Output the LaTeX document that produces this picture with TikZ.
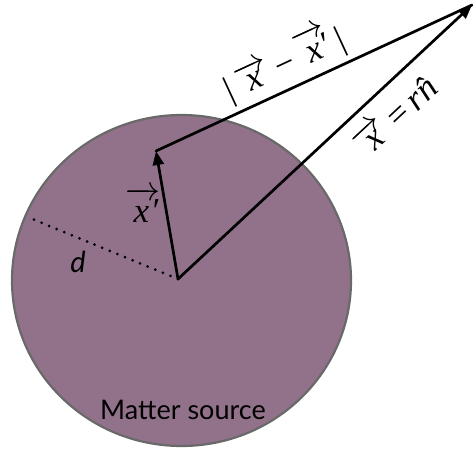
\RequirePackage{fix-cm}
\documentclass[tikz,border=0pt]{standalone}
\usepackage{fontspec}
\setmainfont{Lato}
\newfontfamily\tms{Liberation Serif}
\newcommand{\vx}{\hbox{\tms\itshape x}}
\newcommand{\vxp}{\hbox{\tms\itshape x\kern0.04em\char"2032}}
\newcommand{\gap}{\hspace{0.18em}}
\usetikzlibrary{arrows.meta}
\definecolor{mauve}{RGB}{146,114,138}
\definecolor{rimgray}{RGB}{105,105,105}
\tikzset{
  vec/.style={line width=2.7pt, line cap=round},
  head/.style={-{Triangle[length=14pt,width=11pt]}},
  mathlbl/.style={font=\fontsize{35}{40}\selectfont\tms, inner sep=2pt},
  txtlbl/.style={font=\fontsize{27}{31}\selectfont, inner sep=0pt}
}
\begin{document}
\begin{tikzpicture}[x=1pt,y=-1pt]
\useasboundingbox (0,0) rectangle (473,453);
% matter source
\draw[fill=mauve, draw=rimgray, line width=2.2pt] (181.5,280.5) ellipse [x radius=169.5, y radius=165.5];
\coordinate (O) at (178,279);
\coordinate (P) at (156,151);
\coordinate (X) at (472,5);
\coordinate (D) at (30,218);
% radius
\draw[line width=3pt, line cap=round, dash pattern=on 0pt off 8.2pt] (O) -- (D);
\node[txtlbl, font=\fontsize{29}{33}\selectfont\itshape] (dl) at (78,262) {d};
% vectors
\draw[vec, head] (O) -- (P);
\draw[vec] (P) -- (X) node[mathlbl, pos=0.44, sloped, above=3pt] (diff) {|\gap$\overrightarrow{\,\vx\,}$\gap−\gap$\overrightarrow{\,\vxp}$\gap|};
\draw[vec, head] (O) -- (X) node[mathlbl, pos=0.69, sloped, below=10pt] (xr) {$\overrightarrow{\,\vx\,}$\gap=\gap\textit{r\^{n}}};
\node[mathlbl] (xp) at (143,205) {$\overrightarrow{\,\vxp}$};
\node[txtlbl] (ms) at (183,410) {Matter source};
\end{tikzpicture}
\end{document}
